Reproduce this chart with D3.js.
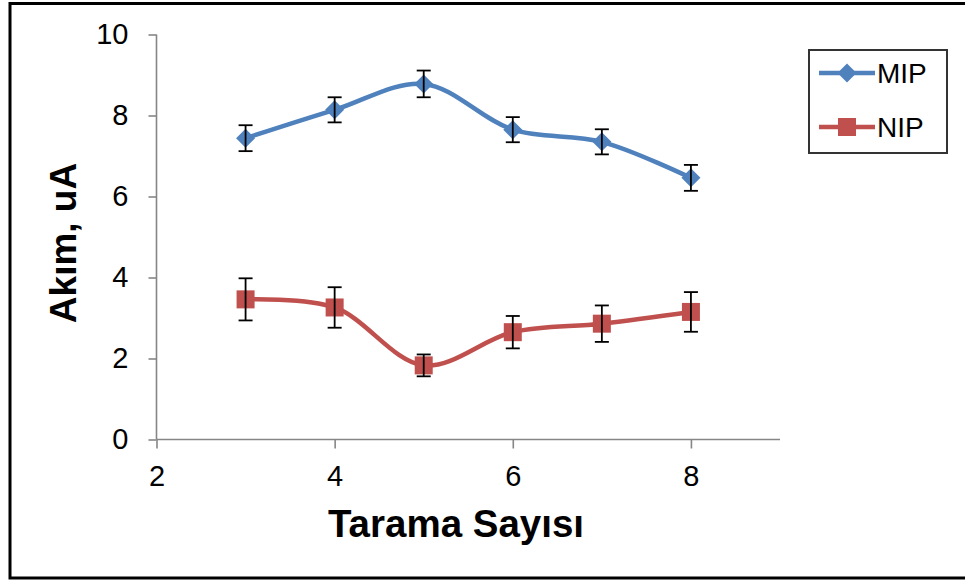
<!DOCTYPE html>
<html>
<head>
<meta charset="utf-8">
<script src="https://cdn.jsdelivr.net/npm/d3@7"></script>
<style>
  html, body { margin: 0; padding: 0; background: #fff; }
  svg { display: block; }
</style>
</head>
<body>
<svg id="chart" width="965" height="581"></svg>
<script>
// Scan counts (x) and measured current (uA) with standard deviations
const scans = [3, 4, 5, 6, 7, 8];
const mipValues = [7.44, 8.14, 8.78, 7.65, 7.35, 6.46];
const mipErrors = [0.32, 0.31, 0.33, 0.31, 0.31, 0.32];
const nipValues = [3.46, 3.26, 1.83, 2.65, 2.86, 3.15];
const nipErrors = [0.52, 0.50, 0.27, 0.40, 0.45, 0.49];
const xTicks = [2, 4, 6, 8];
const yTicks = [0, 2, 4, 6, 8, 10];
const seriesNames = ["MIP", "NIP"];

const colors = { MIP: "#4F81BD", NIP: "#C0504D" };
const svg = d3.select("#chart");

// Outer frame
svg.append("rect")
  .attr("x", 10).attr("y", 3.5)
  .attr("width", 970).attr("height", 574.5)
  .attr("fill", "none").attr("stroke", "#000").attr("stroke-width", 3);

const x = d3.scaleLinear().domain([2, 9]).range([156.5, 780]);
const y = d3.scaleLinear().domain([0, 10]).range([439.5, 34.5]);

const axisColor = "#868686";
const tickFont = "'Liberation Sans', Arial, sans-serif";

// Y axis
const yAxis = svg.append("g").attr("transform", `translate(${x(2)},0)`)
  .call(d3.axisLeft(y).tickValues(yTicks).tickSize(8).tickPadding(20).tickFormat(d3.format("d")));
// X axis
const xAxis = svg.append("g").attr("transform", `translate(0,${y(0)})`)
  .call(d3.axisBottom(x).tickValues(xTicks).tickSize(9).tickPadding(17).tickFormat(d3.format("d")));

[yAxis, xAxis].forEach(g => {
  g.select(".domain").attr("stroke", axisColor).attr("stroke-width", 1.6);
  g.selectAll(".tick line").attr("stroke", axisColor).attr("stroke-width", 1.6);
  g.selectAll(".tick text")
    .attr("fill", "#000")
    .style("font-family", tickFont)
    .style("font-size", "29px");
});
// Plain axis lines without end stubs
xAxis.select(".domain").attr("d", `M${x(2)},0H${x(9)}`);
yAxis.select(".domain").attr("d", `M0,${y(10)}V${y(0)}`);

// Axis titles
svg.append("text")
  .attr("x", 456).attr("y", 537)
  .attr("text-anchor", "middle")
  .style("font-family", tickFont).style("font-weight", "bold").style("font-size", "38.5px")
  .text("Tarama Sayısı");

svg.append("text")
  .attr("transform", "translate(76,243) rotate(-90)")
  .attr("text-anchor", "middle")
  .style("font-family", tickFont).style("font-weight", "bold").style("font-size", "37px")
  .text("Akım, uA");

// Series
const series = [
  { name: "MIP", values: mipValues, errors: mipErrors, marker: "diamond" },
  { name: "NIP", values: nipValues, errors: nipErrors, marker: "square" }
];

const line = d3.line()
  .x(d => x(d.x)).y(d => y(d.y))
  .curve(d3.curveCatmullRom.alpha(0.5));

function drawMarker(g, cx, cy, type, color) {
  if (type === "diamond") {
    const r = 9.5;
    g.append("path")
      .attr("d", `M${cx},${cy - r}L${cx + r},${cy}L${cx},${cy + r}L${cx - r},${cy}Z`)
      .attr("fill", color);
  } else {
    const s = 18;
    g.append("rect")
      .attr("x", cx - s / 2).attr("y", cy - s / 2)
      .attr("width", s).attr("height", s)
      .attr("fill", color);
  }
}

series.forEach(s => {
  const pts = scans.map((sx, i) => ({ x: sx, y: s.values[i], e: s.errors[i] }));
  const g = svg.append("g");
  g.append("path")
    .datum(pts)
    .attr("d", line)
    .attr("fill", "none")
    .attr("stroke", colors[s.name])
    .attr("stroke-width", 4.5)
    .attr("stroke-linejoin", "round");
  pts.forEach(p => drawMarker(g, x(p.x), y(p.y), s.marker, colors[s.name]));
  // Error bars
  const eb = svg.append("g").attr("stroke", "#000").attr("stroke-width", 1.8);
  pts.forEach(p => {
    const cx = x(p.x), y1 = y(p.y + p.e), y2 = y(p.y - p.e);
    eb.append("line").attr("x1", cx).attr("x2", cx).attr("y1", y1).attr("y2", y2);
    eb.append("line").attr("x1", cx - 7).attr("x2", cx + 7).attr("y1", y1).attr("y2", y1);
    eb.append("line").attr("x1", cx - 7).attr("x2", cx + 7).attr("y1", y2).attr("y2", y2);
  });
});

// Legend
const legend = svg.append("g");
legend.append("rect")
  .attr("x", 809).attr("y", 50).attr("width", 138).attr("height", 103)
  .attr("fill", "#fff").attr("stroke", "#333").attr("stroke-width", 2);
seriesNames.forEach((name, i) => {
  const ly = 73 + i * 54;
  legend.append("line")
    .attr("x1", 819).attr("x2", 875).attr("y1", ly).attr("y2", ly)
    .attr("stroke", colors[name]).attr("stroke-width", 4.5);
  drawMarker(legend, 847, ly, series[i].marker, colors[name]);
  legend.append("text")
    .attr("x", 877).attr("y", ly + 10)
    .style("font-family", tickFont).style("font-size", "28px")
    .text(name);
});
</script>
</body>
</html>
